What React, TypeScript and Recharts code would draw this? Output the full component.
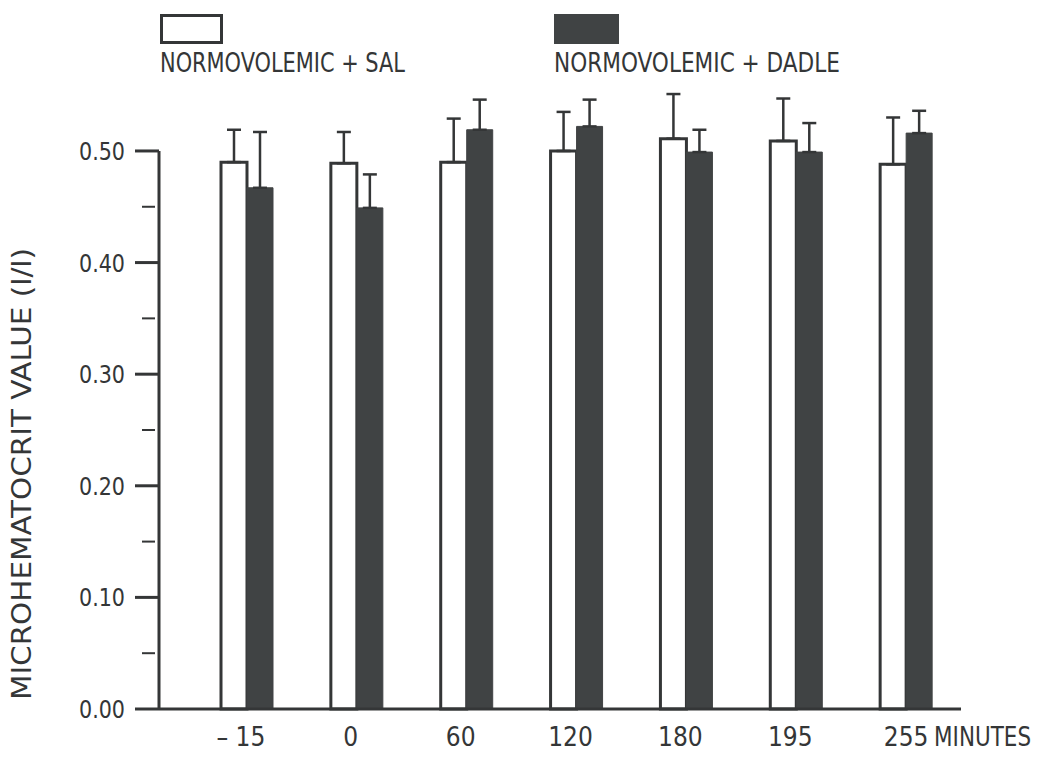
import { BarChart, Bar, XAxis, YAxis, ErrorBar, Legend } from "recharts";

const timepoints = ["– 15", "0", "60", "120", "180", "195", "255"];
const salineMean = [0.49, 0.489, 0.49, 0.5, 0.511, 0.509, 0.488];
const salineErr = [0.029, 0.028, 0.039, 0.035, 0.04, 0.038, 0.042];
const dadleMean = [0.467, 0.449, 0.519, 0.522, 0.499, 0.499, 0.516];
const dadleErr = [0.05, 0.03, 0.027, 0.024, 0.02, 0.026, 0.02];
const yTicks = [0, 0.05, 0.1, 0.15, 0.2, 0.25, 0.3, 0.35, 0.4, 0.45, 0.5];

const SAL_NAME = "NORMOVOLEMIC + SAL";
const DADLE_NAME = "NORMOVOLEMIC + DADLE";
const SERIES_ORDER = [SAL_NAME, DADLE_NAME];
const X_UNIT = "MINUTES";
const Y_TITLE = "MICROHEMATOCRIT VALUE (l/l)";

const data = timepoints.map((t, i) => ({
  t,
  sal: salineMean[i],
  salErr: [0, salineErr[i]],
  dadle: dadleMean[i],
  dadleErr: [0, dadleErr[i]],
}));

const FONT = "'DejaVu Sans Condensed', 'Liberation Sans Narrow', 'DejaVu Sans', sans-serif";
const INK = "#343637";
const DARK = "#404344";

const W = 1043;
const H = 759;
const TOP = 84;
const X_AXIS_H = 50;
const PLOT_H = H - TOP - X_AXIS_H;
const Y_MAX = 0.56;
const AXIS_TOP = 0.5;

function YTick(props: any) {
  const { x, y, payload } = props;
  const v = payload.value as number;
  const major = Math.round(v * 100) % 10 === 0;
  const axisLen = (AXIS_TOP / Y_MAX) * PLOT_H;
  return (
    <g>
      {v === 0 && (
        <>
          <line x1={x} x2={x} y1={y} y2={y - axisLen} stroke={INK} strokeWidth={3} />
          <text
            x={31}
            y={474}
            transform="rotate(-90 31 474)"
            textAnchor="middle"
            fontFamily={FONT}
            fontSize={27}
            textLength={452}
            lengthAdjust="spacingAndGlyphs"
            fill={INK}
          >
            {Y_TITLE}
          </text>
        </>
      )}
      {major ? (
        <line x1={x - 24} x2={x} y1={y} y2={y} stroke={INK} strokeWidth={3} />
      ) : (
        <line x1={x - 17} x2={x - 4} y1={y} y2={y} stroke={INK} strokeWidth={2} />
      )}
      {major && (
        <text
          x={x - 34}
          y={y + 9}
          textAnchor="end"
          fontFamily={FONT}
          fontSize={25}
          textLength={46}
          lengthAdjust="spacingAndGlyphs"
          fill={INK}
        >
          {v.toFixed(2)}
        </text>
      )}
    </g>
  );
}

function XTick(props: any) {
  const { x, y, payload, index } = props;
  const last = index === timepoints.length - 1;
  return (
    <g fontFamily={FONT} fontSize={26} fill={INK}>
      <text x={last ? x : x - 6} y={y + 35} textAnchor="middle">
        {payload.value}
      </text>
      {last && (
        <text x={x + 28} y={y + 35} textAnchor="start" textLength={97} lengthAdjust="spacingAndGlyphs">
          {X_UNIT}
        </text>
      )}
    </g>
  );
}

const LEGEND_X = [160, 554];
const LEGEND_TEXT_W = [245, 286];

function LegendBlock(props: any) {
  const items = [...(props.payload || [])].sort(
    (a: any, b: any) => SERIES_ORDER.indexOf(a.value) - SERIES_ORDER.indexOf(b.value)
  );
  return (
    <div style={{ position: "relative", width: W, height: 84, fontFamily: FONT, color: INK }}>
      {items.map((item: any, i: number) => (
        <div key={item.value}>
          <div
            style={{
              position: "absolute",
              left: LEGEND_X[i],
              top: 14,
              width: i === 0 ? 57 : 65,
              height: i === 0 ? 24 : 30,
              boxSizing: "content-box",
              border: i === 0 ? `3px solid ${INK}` : "none",
              background: item.color,
            }}
          />
          <svg
            style={{ position: "absolute", left: LEGEND_X[i], top: 46, overflow: "visible" }}
            width={LEGEND_TEXT_W[i] + 20}
            height={36}
          >
            <text
              x={0}
              y={26}
              fontFamily={FONT}
              fontSize={26}
              fill={INK}
              textLength={LEGEND_TEXT_W[i]}
              lengthAdjust="spacingAndGlyphs"
            >
              {item.value}
            </text>
          </svg>
        </div>
      ))}
    </div>
  );
}

export default function App() {
  return (
    <div style={{ position: "absolute", left: 0, top: 0, background: "#fff" }}>
      <BarChart
        width={W}
        height={H}
        data={data}
        margin={{ top: TOP, right: 82, bottom: 0, left: 0 }}
        barSize={26}
        barGap={0}
      >
        <XAxis
          dataKey="t"
          height={X_AXIS_H}
          padding={{ left: 33, right: 0 }}
          axisLine={{ stroke: INK, strokeWidth: 3 }}
          tickLine={false}
          tickSize={0}
          tick={<XTick />}
          interval={0}
        />
        <YAxis
          width={159}
          domain={[0, Y_MAX]}
          ticks={yTicks}
          interval={0}
          axisLine={false}
          tickLine={false}
          tickSize={0}
          tickMargin={0}
          tick={<YTick />}
        />
        <Legend
          layout="horizontal"
          verticalAlign="middle"
          align="center"
          wrapperStyle={{ position: "absolute", top: 0, left: 0, width: W }}
          content={<LegendBlock />}
        />
        <Bar
          dataKey="sal"
          name={SAL_NAME}
          fill="#ffffff"
          stroke={INK}
          strokeWidth={3}
          isAnimationActive={false}
        >
          <ErrorBar dataKey="salErr" width={7} stroke={INK} strokeWidth={2.5} direction="y" />
        </Bar>
        <Bar
          dataKey="dadle"
          name={DADLE_NAME}
          fill={DARK}
          stroke={DARK}
          strokeWidth={1}
          isAnimationActive={false}
        >
          <ErrorBar dataKey="dadleErr" width={7} stroke={INK} strokeWidth={2.5} direction="y" />
        </Bar>
      </BarChart>
    </div>
  );
}
